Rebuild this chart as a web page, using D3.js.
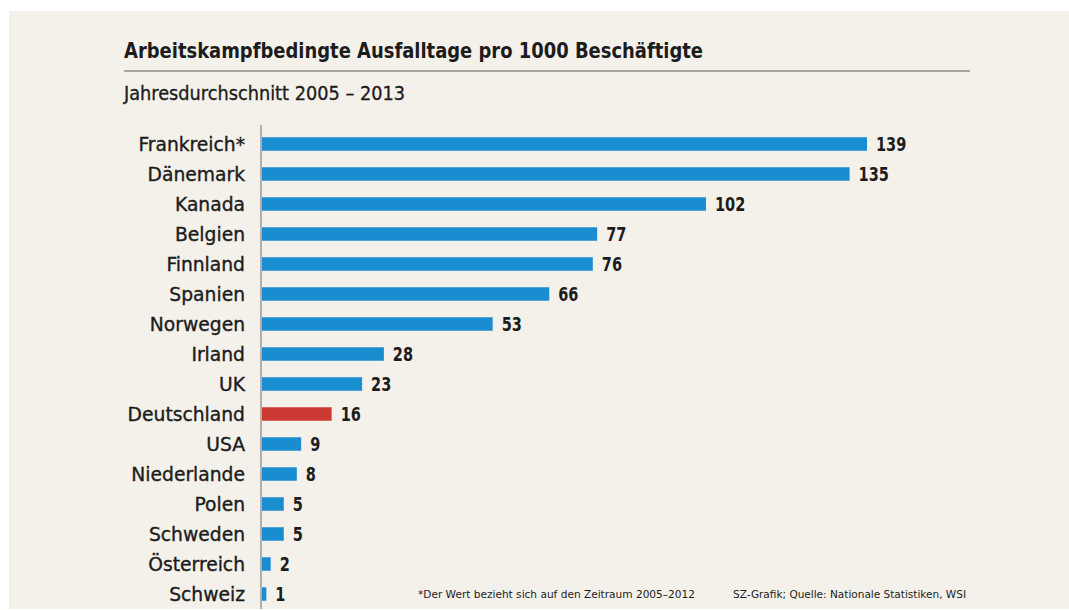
<!DOCTYPE html>
<html>
<head>
<meta charset="utf-8">
<script src="https://cdn.jsdelivr.net/npm/d3@7"></script>
<style>
  body { margin: 0; background: #fff; }
  text { font-family: "DejaVu Sans Condensed", "DejaVu Sans", sans-serif; fill: #1c1c1c; }
</style>
</head>
<body>
<div id="chart"></div>
<script>
const WIDTH = 1069,
    HEIGHT = 610;

const countries = ["Frankreich*", "Dänemark", "Kanada", "Belgien", "Finnland", "Spanien", "Norwegen",
    "Irland", "UK", "Deutschland", "USA", "Niederlande", "Polen", "Schweden", "Österreich", "Schweiz"];
const values = [139, 135, 102, 77, 76, 66, 53, 28, 23, 16, 9, 8, 5, 5, 2, 1];
const highlighted = ["Deutschland"];

const title = "Arbeitskampfbedingte Ausfalltage pro 1000 Beschäftigte";
const subtitle = "Jahresdurchschnitt 2005 – 2013";
const footnote = "*Der Wert bezieht sich auf den Zeitraum 2005–2012";
const source = "SZ-Grafik; Quelle: Nationale Statistiken, WSI";

const data = countries.map((c, i) => ({ country: c, value: values[i] }));

const svg = d3.select("#chart")
    .append("svg")
    .attr("width", WIDTH)
    .attr("height", HEIGHT);

// beige panel
svg.append("rect")
    .attr("x", 9).attr("y", 11)
    .attr("width", WIDTH - 9).attr("height", 598)
    .attr("fill", "#f4f1ea");

const x = d3.scaleLinear().domain([0, 139]).range([262, 867]);
const y = d3.scaleBand().domain(countries).range([129, 609])
    .paddingInner(0.55).paddingOuter(0.275);

// heading
svg.append("text")
    .text(title)
    .attr("x", 124).attr("y", 58)
    .attr("font-size", "22px")
    .attr("font-weight", "bold")
    .attr("textLength", 579)
    .attr("lengthAdjust", "spacingAndGlyphs");

svg.append("line")
    .attr("x1", 124).attr("x2", 970)
    .attr("y1", 71).attr("y2", 71)
    .attr("stroke", "#a8a6a0")
    .attr("stroke-width", 2);

svg.append("text")
    .text(subtitle)
    .attr("x", 124).attr("y", 100)
    .attr("font-size", "19px")
    .attr("stroke", "#1c1c1c")
    .attr("stroke-width", 0.3)
    .attr("textLength", 281)
    .attr("lengthAdjust", "spacingAndGlyphs");

// axis line
svg.append("line")
    .attr("x1", x(0) - 1).attr("x2", x(0) - 1)
    .attr("y1", 125).attr("y2", 609)
    .attr("stroke", "#9a9892")
    .attr("stroke-width", 1.5);

svg.selectAll(".bar")
    .data(data)
    .join("rect")
    .attr("class", "bar")
    .attr("x", x(0))
    .attr("y", d => y(d.country))
    .attr("width", d => x(d.value) - x(0))
    .attr("height", y.bandwidth())
    .attr("fill", d => highlighted.includes(d.country) ? "#cc3b33" : "#1a8cd0");

// country names
svg.selectAll(".cname")
    .data(data)
    .join("text")
    .attr("class", "cname")
    .attr("transform", d => `translate(245,${y(d.country) + y.bandwidth() / 2 + 7}) scale(1.04,1)`)
    .attr("text-anchor", "end")
    .attr("font-size", "20px")
    .attr("stroke", "#1c1c1c")
    .attr("stroke-width", 0.35)
    .text(d => d.country);

svg.selectAll(".val")
    .data(data)
    .join("text")
    .attr("class", "val")
    .attr("transform", d => `translate(${x(d.value) + 9},${y(d.country) + y.bandwidth() / 2 + 7}) scale(0.85,1)`)
    .attr("font-size", "19px")
    .attr("font-weight", "bold")
    .text(d => d.value);

// footer
svg.append("text")
    .text(footnote)
    .attr("x", 418).attr("y", 598)
    .attr("font-size", "11px")
    .attr("textLength", 277)
    .attr("lengthAdjust", "spacingAndGlyphs");

svg.append("text")
    .text(source)
    .attr("x", 733).attr("y", 598)
    .attr("font-size", "11px")
    .attr("textLength", 233)
    .attr("lengthAdjust", "spacingAndGlyphs");
</script>
</body>
</html>
